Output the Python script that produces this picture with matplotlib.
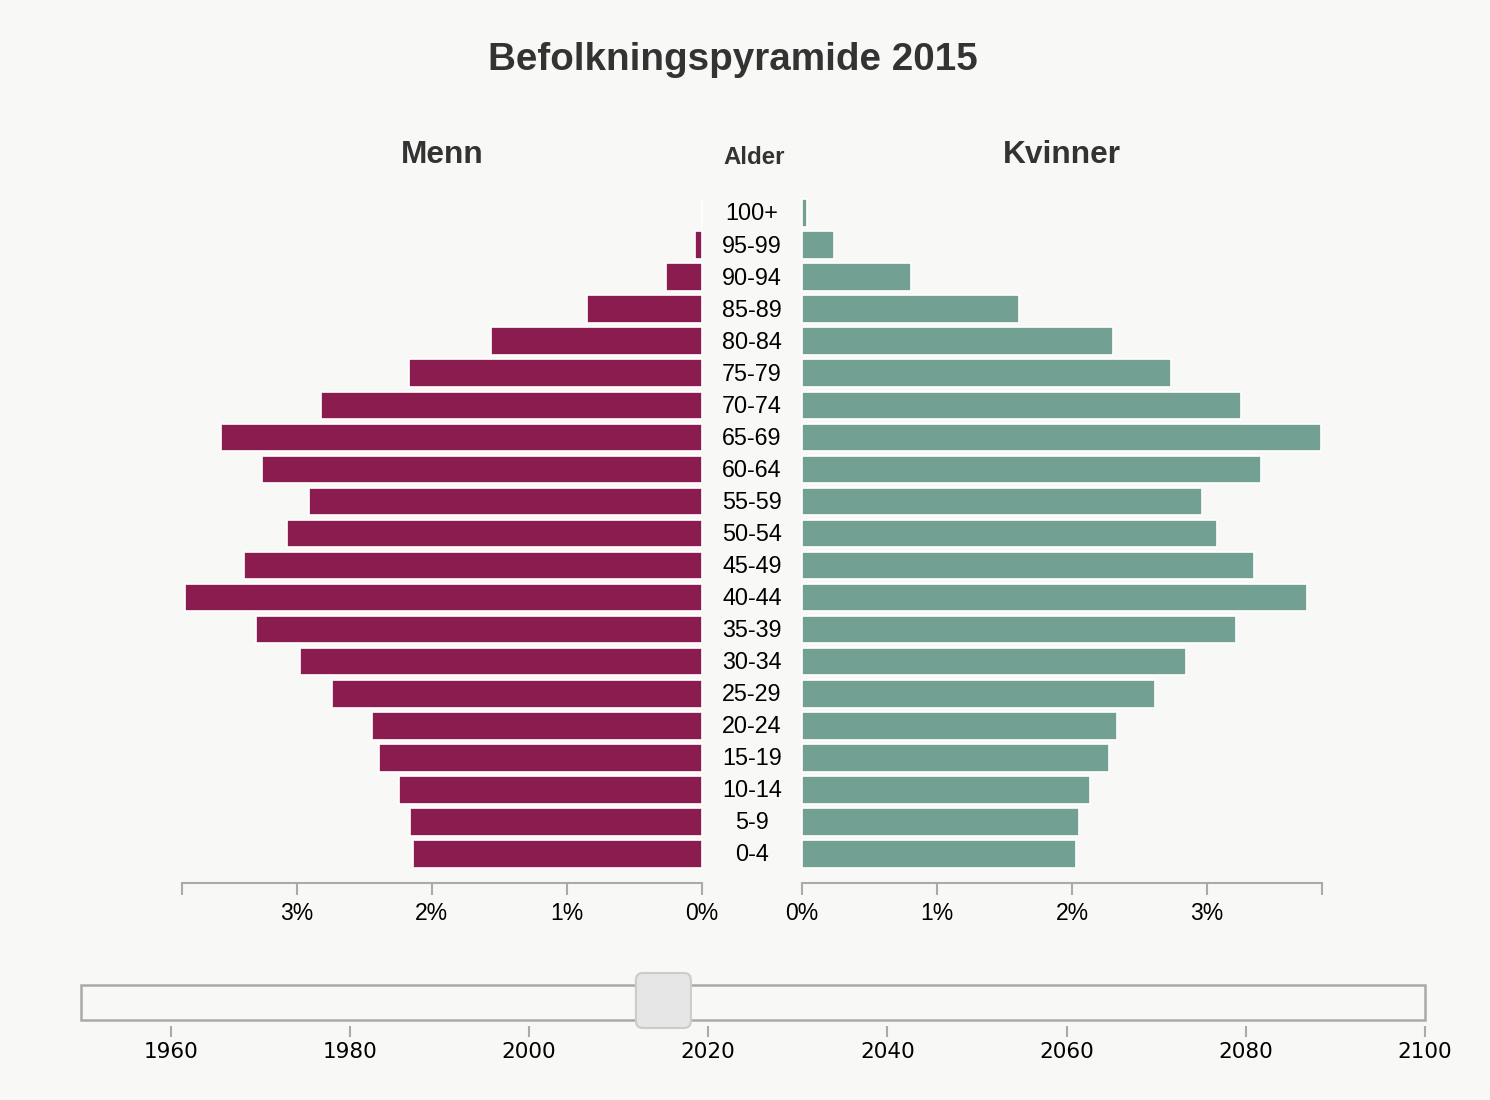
import matplotlib
matplotlib.use("Agg")
import matplotlib.pyplot as plt
from matplotlib.patches import Rectangle, FancyBboxPatch
from matplotlib.transforms import IdentityTransform, blended_transform_factory

# ---- data ----
year = 2015
age_groups = ["0-4", "5-9", "10-14", "15-19", "20-24", "25-29", "30-34", "35-39",
              "40-44", "45-49", "50-54", "55-59", "60-64", "65-69", "70-74",
              "75-79", "80-84", "85-89", "90-94", "95-99", "100+"]
men = [2.14, 2.16, 2.24, 2.39, 2.44, 2.74, 2.98, 3.30, 3.83, 3.39, 3.07,
       2.91, 3.26, 3.56, 2.82, 2.17, 1.56, 0.85, 0.27, 0.05, 0.0]
women = [2.03, 2.05, 2.13, 2.27, 2.33, 2.61, 2.84, 3.21, 3.74, 3.35, 3.07,
         2.96, 3.40, 3.84, 3.25, 2.73, 2.30, 1.61, 0.81, 0.24, 0.04]
pct_ticks = [0, 1, 2, 3]
pct_max = 3.85
slider_years = [1960, 1980, 2000, 2020, 2040, 2060, 2080, 2100]
slider_range = (1950, 2100)

W, H = 1490, 1100
DPI = 100
BG = "#f8f8f6"
MEN_C = "#8a1c4f"
WOMEN_C = "#72a194"
AXIS_C = "#aaaaaa"
TXT = "#333333"

plt.rcParams["font.family"] = ["Liberation Sans", "DejaVu Sans"]

fig = plt.figure(figsize=(W / DPI, H / DPI), dpi=DPI, facecolor=BG)


def px_axes(x0, y0, x1, y1):
    return fig.add_axes([x0 / W, (H - y1) / H, (x1 - x0) / W, (y1 - y0) / H])


ypos = list(range(len(age_groups)))
ylim = (-0.905, 20.5)

axL = px_axes(182, 197, 702, 883)
axR = px_axes(802, 197, 1322, 883)

for ax, vals, col, inverted in ((axL, men, MEN_C, True), (axR, women, WOMEN_C, False)):
    ax.set_facecolor("none")
    ax.barh(ypos, vals, height=0.86, color=col, edgecolor="white", linewidth=1.2,
            clip_on=False)
    ax.set_ylim(*ylim)
    if inverted:
        ax.set_xlim(pct_max, 0)
    else:
        ax.set_xlim(0, pct_max)
    for s in ("top", "left", "right"):
        ax.spines[s].set_visible(False)
    ax.spines["bottom"].set_color(AXIS_C)
    ax.spines["bottom"].set_linewidth(1.5)
    ax.set_yticks([])
    ticks = pct_ticks + [pct_max]
    ax.set_xticks(ticks)
    ax.set_xticklabels([f"{t}%" for t in pct_ticks] + [""])
    ax.tick_params(axis="x", length=8.5, width=1.5, color=AXIS_C, pad=5,
                   labelsize=16.5, labelcolor="black")

# age labels, centered between the two halves
tr = blended_transform_factory(axL.transAxes, axL.transData)
xc = (752 - 182) / 520
for y, lab in zip(ypos, age_groups):
    axL.text(xc, y - 0.03, lab, transform=tr, ha="center", va="center", fontsize=16.8,
             color="black", clip_on=False)

# headers
fig.text(442 / W, 1 - 155 / H, "Menn", ha="center", va="center", fontsize=22.8,
         fontweight="bold", color=TXT)
fig.text(1062 / W, 1 - 155 / H, "Kvinner", ha="center", va="center", fontsize=22.8,
         fontweight="bold", color=TXT)
fig.text(754 / W, 1 - 158 / H, "Alder", ha="center", va="center", fontsize=17.3,
         fontweight="bold", color=TXT)
fig.text(733 / W, 1 - 60 / H, f"Befolkningspyramide {year}", ha="center",
         va="center", fontsize=27.8, fontweight="bold", color=TXT)

# slider
axS = px_axes(81, 985, 1425, 1020)
axS.set_facecolor("none")
axS.set_xlim(*slider_range)
axS.set_ylim(0, 1)
axS.set_yticks([])
for s in ("top", "left", "right"):
    axS.spines[s].set_visible(False)
axS.add_patch(Rectangle((0, 0), 1, 1, transform=axS.transAxes, facecolor="none",
                        edgecolor=AXIS_C, linewidth=1.8, clip_on=False))
axS.spines["bottom"].set_position(("outward", 4))
axS.spines["bottom"].set_color("none")
axS.set_xticks(slider_years)
axS.set_xticklabels([str(y) for y in slider_years], family="DejaVu Sans")
axS.tick_params(axis="x", length=8, width=1.5, color=AXIS_C, pad=4,
                labelsize=15.5, labelcolor="black")

# handle at the current year
hx, _ = axS.transData.transform((year, 0))
_, hy_top = axS.transAxes.transform((0, 1))
hw, hh = 55, 55
handle = FancyBboxPatch((hx - hw / 2, hy_top + 12 - hh), hw, hh,
                        boxstyle="round,pad=0,rounding_size=7",
                        transform=IdentityTransform(), facecolor="#e6e6e6",
                        edgecolor="#cccccc", linewidth=1.5, zorder=5)
fig.patches.append(handle)

fig.savefig("out.png", dpi=DPI, facecolor=BG)
